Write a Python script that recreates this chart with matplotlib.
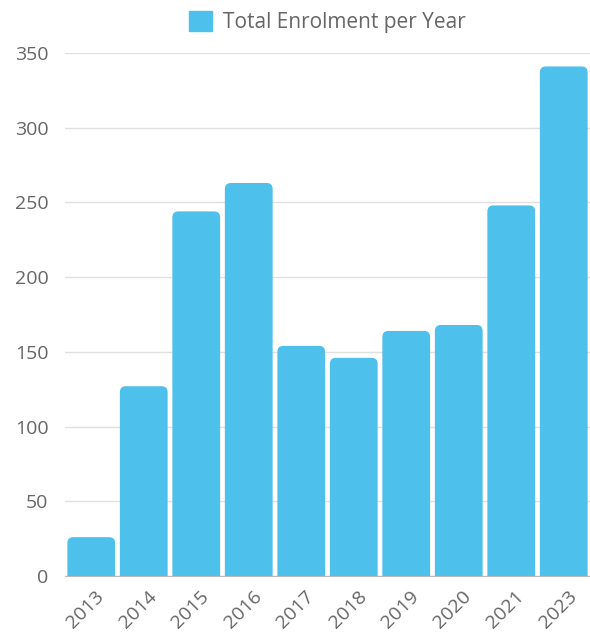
import matplotlib.pyplot as plt
import matplotlib.transforms as mtransforms
from matplotlib.patches import FancyBboxPatch, Rectangle

years = ['2013', '2014', '2015', '2016', '2017', '2018', '2019', '2020', '2021', '2023']
enrolment = [26, 127, 244, 263, 154, 146, 164, 168, 248, 341]
yticks = [0, 50, 100, 150, 200, 250, 300, 350]

plt.rcParams['font.family'] = ['Open Sans', 'DejaVu Sans']
color = '#4dc0eb'
text_color = '#666666'

fig = plt.figure(figsize=(5.9, 6.34), dpi=100)
ax = fig.add_axes([65 / 590, 1 - 576 / 634, 525 / 590, 523 / 634])

bars = ax.bar(range(len(years)), enrolment, width=0.91, color=color,
              label='Total Enrolment per Year')

# swap plain bars for ones with rounded top corners,
# the bottom corners go below zero and get clipped by the axes
r = 6.0
ry = r * 350 / 523
rx = r * len(years) / 525
for b in bars:
    b.set_visible(False)
    x, y, w, h = b.get_x(), b.get_y(), b.get_width(), b.get_height()
    top = FancyBboxPatch((x, y - 2 * ry), w, h + 2 * ry,
                         boxstyle='round,pad=0,rounding_size=%f' % rx,
                         mutation_aspect=ry / rx, facecolor=color,
                         edgecolor='none', zorder=2)
    ax.add_patch(top)

ax.set_xlim(-0.5, len(years) - 0.5)
ax.set_ylim(0, 350)
ax.set_yticks(yticks)
ax.set_xticks(range(len(years)))
ax.set_xticklabels(years, rotation=45, ha='right', va='center', rotation_mode='anchor')
ax.tick_params(axis='both', length=0, labelsize=14, colors=text_color)
ax.tick_params(axis='y', pad=12)
ax.tick_params(axis='x', pad=13)
shift = mtransforms.ScaledTranslation(0.10, 0, fig.dpi_scale_trans)
for lbl in ax.get_xticklabels():
    lbl.set_transform(lbl.get_transform() + shift)
ax.yaxis.grid(True, color='#e0e0e0', linewidth=1)
ax.set_axisbelow(True)
for s in ['top', 'right', 'left']:
    ax.spines[s].set_visible(False)
ax.spines['bottom'].set_color('#bbbbbb')

cx = (65 + 525 / 2) / 590
leg = fig.legend(handles=[Rectangle((0, 0), 1, 1, color=color)],
                 labels=['Total Enrolment per Year'], loc='upper center',
                 bbox_to_anchor=(cx, 1.012), frameon=False, fontsize=15,
                 handlelength=1.1, handleheight=1.1, handletextpad=0.5)
for t in leg.get_texts():
    t.set_color(text_color)

fig.savefig('out.png', dpi=100)
